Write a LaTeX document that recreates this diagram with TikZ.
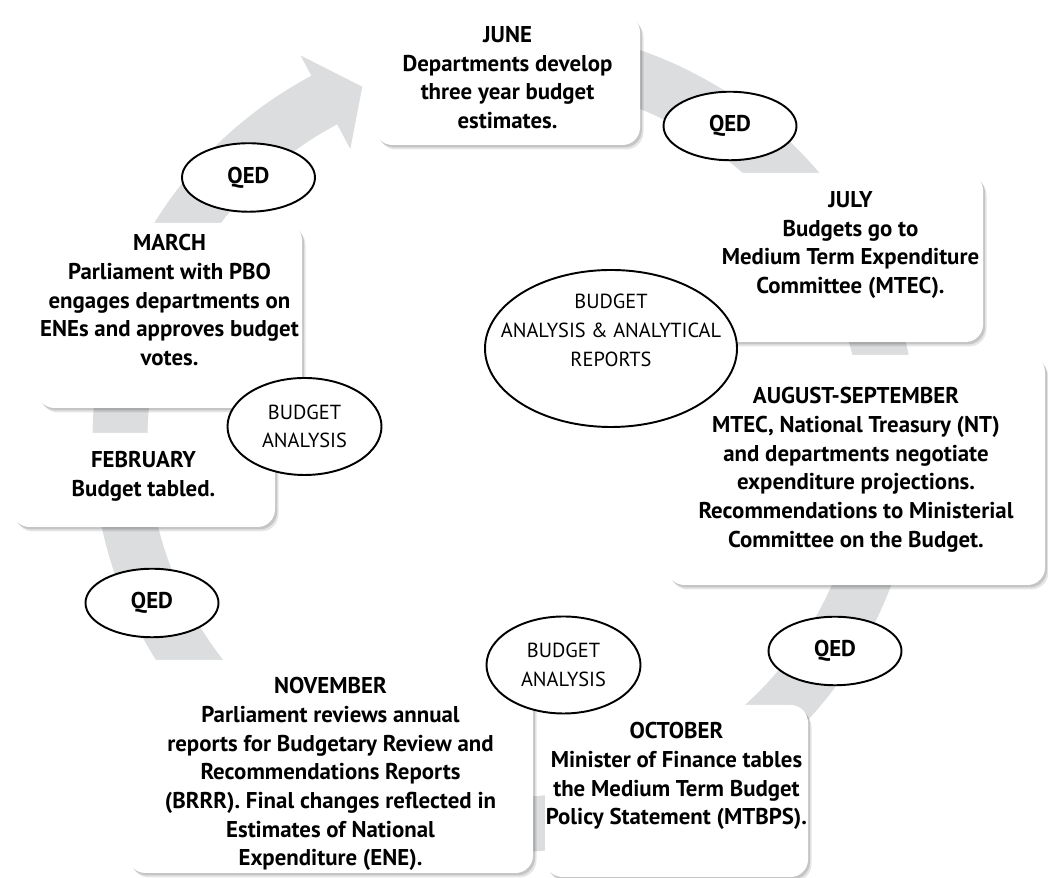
\documentclass[tikz,border=0pt]{standalone}
\usepackage{fontspec}
\setmainfont{PT Sans}
\usetikzlibrary{positioning,calc,shapes.geometric,shadows}
\definecolor{ringgray}{RGB}{220,221,222}

\begin{document}
\begin{tikzpicture}[font=\fontsize{11.6}{16.3}\selectfont,
 month/.style={fill=white,rounded corners=0.35cm,
   drop shadow={shadow xshift=0.07cm,shadow yshift=-0.09cm,opacity=0.10,fill=black},
   drop shadow={shadow xshift=0.04cm,shadow yshift=-0.05cm,opacity=0.14,fill=black}},
 mtxt/.style={font=\fontsize{13}{16.3}\selectfont\bfseries,align=center,inner sep=0pt},
 oval/.style={ellipse,draw,line width=1.1pt,fill=white,inner sep=0pt,align=center},
 qed/.style={oval,font=\fontsize{13}{16.3}\selectfont\bfseries,minimum width=2.66cm,minimum height=1.37cm},
 ba/.style={oval,minimum width=3.08cm,minimum height=1.94cm}]
\useasboundingbox (0,0) rectangle (20.96,17.56);
% the yearly cycle
\coordinate (c) at (10.1,8.76);
\draw[ringgray,line width=1.1cm] (c) ++(95:7.7) arc[start angle=95,end angle=-242.3,radius=7.7cm];
\fill[ringgray] ($(c)+(118:8.71)$) -- ($(c)+(112:7.62)$) -- ($(c)+(118:6.59)$) -- cycle;
% months
\node[month,minimum width=5.3cm,minimum height=2.6cm] (jun) at (10.15,15.96) {};
\node[mtxt,below=0.23cm of jun.north] (junt) {JUNE\\Departments develop\\three year budget\\estimates.};
\node[month,minimum width=5.3cm,minimum height=3.38cm] (jul) at (17.01,12.41) {};
\node[mtxt,below=0.37cm of jul.north] (jult) {JULY\\Budgets go to\\Medium Term Expenditure\\Committee (MTEC).};
\node[month,minimum width=7.56cm,minimum height=4.6cm] (aug) at (17.12,8.16) {};
\node[mtxt,below=0.65cm of aug.north] (augt) {AUGUST-SEPTEMBER\\MTEC, National Treasury (NT)\\and departments negotiate\\expenditure projections.\\Recommendations to Ministerial\\Committee on the Budget.};
\node[month,minimum width=5.26cm,minimum height=3.44cm] (oct) at (13.53,1.74) {};
\node[mtxt,below=0.35cm of oct.north] (octt) {OCTOBER\\Minister of Finance tables\\the Medium Term Budget\\Policy Statement (MTBPS).};
\node[month,minimum width=8.1cm,minimum height=4.26cm] (nov) at (6.61,2.23) {};
\node[mtxt,below=0.35cm of nov.north] (novt) {NOVEMBER\\Parliament reviews annual\\reports for Budgetary Review and\\Recommendations Reports\\(BRRR). Final changes reflected in\\Estimates of National\\Expenditure (ENE).};
\node[month,minimum width=5.26cm,minimum height=1.88cm] (feb) at (2.87,7.96) {};
\node[mtxt,below=0.37cm of feb.north] (febt) {FEBRUARY\\Budget tabled.};
\node[month,minimum width=5.3cm,minimum height=3.7cm] (mar) at (3.39,11.25) {};
\node[mtxt,below=0.23cm of mar.north] (mart) {MARCH\\Parliament with PBO\\engages departments on\\ENEs and approves budget\\votes.};
% ovals
\node[qed] (qtl) at (4.97,14.01) {QED};
\node[qed] (qtr) at (14.6,15.04) {QED};
\node[qed] (qbl) at (3.04,5.50) {QED};
\node[qed] (qbr) at (16.7,4.54) {QED};
\node[ba] (ba1) at (6.09,9.03) {BUDGET\\ANALYSIS};
\node[ba] (ba2) at (11.27,4.26) {BUDGET\\ANALYSIS};
\node[oval,minimum width=5.04cm,minimum height=3.14cm] (rep) at (12.22,10.59) {};
\node[align=center,inner sep=0pt] (rept) at ([yshift=0.36cm]rep.center) {BUDGET\\ANALYSIS \& ANALYTICAL\\REPORTS};
\end{tikzpicture}
\end{document}
